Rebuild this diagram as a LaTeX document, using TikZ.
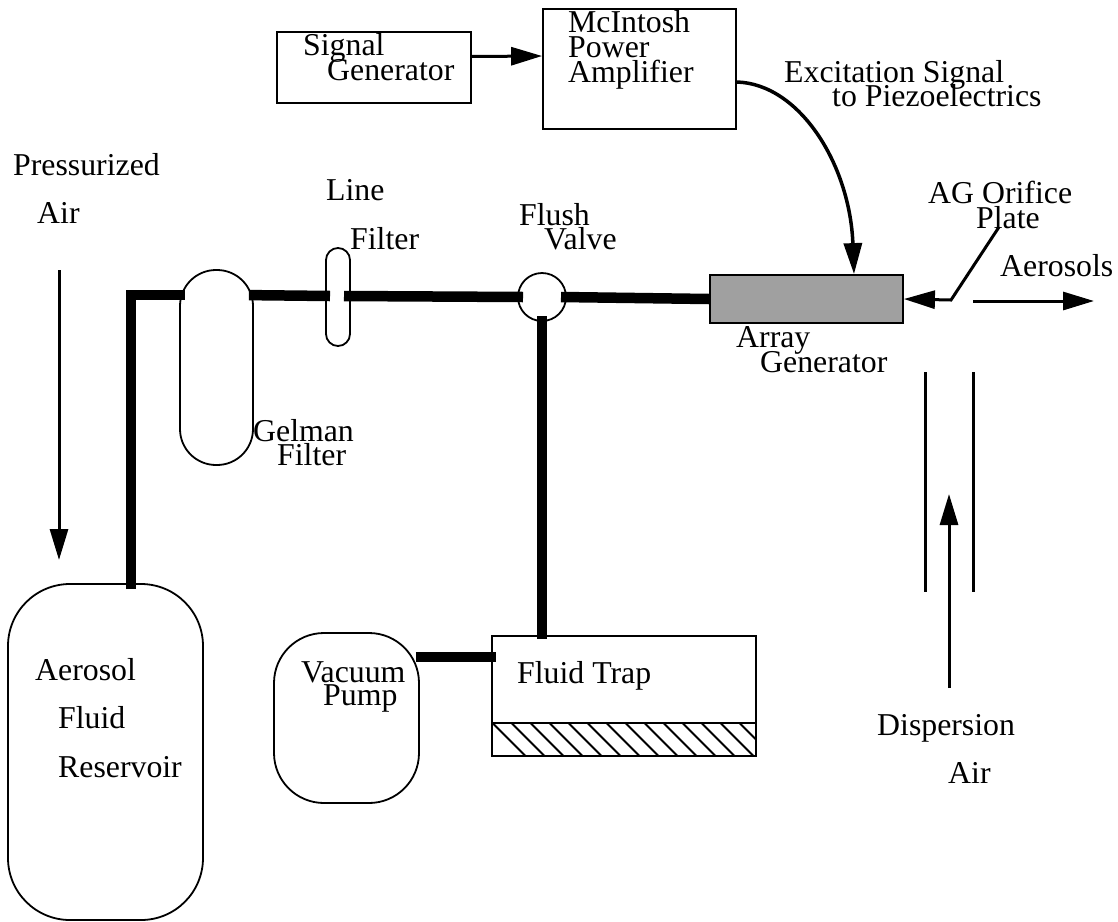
\documentclass[tikz,border=0pt]{standalone}
\usepackage{fontspec}
\setmainfont{Liberation Serif}
\usetikzlibrary{arrows.meta, calc}
\definecolor{arraygray}{HTML}{A0A0A0}

\begin{document}
\begin{tikzpicture}[
    x=1pt, y=-1pt,
    >={Triangle[length=31pt, width=18pt]},
    every node/.style={text=black},
    lbl/.style={anchor=base west, inner sep=0pt, font=\fontsize{31.8}{32}\selectfont},
    vessel/.style={draw, line width=1.8pt, inner sep=0pt},
    pipe/.style={line width=10.5pt},
    flow/.style={->, line width=3pt},
  ]

  \useasboundingbox (0,0) rectangle (1118,921);

  % === Electronics ===
  \node[vessel, minimum width=194, minimum height=71] (siggen) at (374,67.5) {};
  \node[vessel, minimum width=193, minimum height=120] (amp) at (639.5,69) {};

  \node[lbl] (siggenA) at (303,55) {Signal};
  \node[lbl] (siggenB) at (327,80) {Generator};
  \node[lbl] (ampA) at (568,32) {McIntosh};
  \node[lbl] (ampB) at (568,57) {Power};
  \node[lbl] (ampC) at (568,82) {Amplifier};
  \node[lbl] (excA) at (784,82) {Excitation Signal};
  \node[lbl] (excB) at (832,106) {to Piezoelectrics};

  % === Vessels along the line ===
  \node[vessel, minimum width=195, minimum height=336, rounded corners=62] (reservoir) at (105.5,752) {};
  \node[vessel, minimum width=73, minimum height=195, rounded corners=36] (gelman) at (216.5,367.5) {};
  \node[vessel, minimum width=24, minimum height=98, rounded corners=12] (linefilter) at (338,297) {};
  \node[vessel, circle, minimum size=48] (valve) at (542,297) {};
  \node[vessel, fill=arraygray, minimum width=193, minimum height=48] (array) at (806.5,299) {};
  \node[vessel, minimum width=145, minimum height=170, rounded corners=50] (pump) at (346.5,718) {};
  \node[vessel, minimum width=264, minimum height=120] (trap) at (624,696) {};

  % Hatched bottom of the trap
  \node[vessel, minimum width=264, minimum height=33] (trapbase) at (624,739.5) {};
  \begin{scope}
    \clip (trapbase.north west) rectangle (trapbase.south east);
    \foreach \i in {-1,...,13} {
      \draw[line width=2pt] (511.5+19*\i,723) -- ++(33,33);
    }
  \end{scope}

  \node[lbl] (resA) at (35,680) {Aerosol};
  \node[lbl] (resB) at (58,728) {Fluid};
  \node[lbl] (resC) at (58,777) {Reservoir};
  \node[lbl] (gelmanA) at (253,441) {Gelman};
  \node[lbl] (gelmanB) at (277,465) {Filter};
  \node[lbl] (lineA) at (326,200) {Line};
  \node[lbl] (lineB) at (350,249) {Filter};
  \node[lbl] (valveA) at (519,225) {Flush};
  \node[lbl] (valveB) at (544,249) {Valve};
  \node[lbl] (arrayA) at (736,347) {Array};
  \node[lbl] (arrayB) at (760,372) {Generator};
  \node[lbl] (pumpA) at (301,682) {Vacuum};
  \node[lbl] (pumpB) at (323,705) {Pump};
  \node[lbl] (trapA) at (517,683) {Fluid Trap};

  % === Thick lines ===
  \draw[pipe, line join=miter] ([xshift=25.5pt, yshift=-6pt]reservoir.north)
    -- ++(0,-294) -- ([xshift=6pt, yshift=-26pt]gelman.north west);
  \draw[pipe] ([xshift=-5pt, yshift=-26pt]gelman.north east) -- ([xshift=-8pt, yshift=1pt]linefilter.center);
  \draw[pipe] ([xshift=6pt, yshift=1pt]linefilter.center) -- ([xshift=-19pt]valve.center);
  \draw[pipe] ([xshift=19pt]valve.center) -- (array.west);
  \draw[pipe] ([yshift=-19pt]valve.center) -- ([xshift=-82pt, yshift=-4pt]trap.north);
  \draw[pipe] ([xshift=-4pt, yshift=-25pt]pump.north east) -- ([xshift=5pt, yshift=-22pt]trap.north west);

  % === Signal and air ===
  \draw[flow] ([yshift=11pt]siggen.east) -- ([yshift=13pt]amp.west);
  \draw[flow, line width=3.5pt] ([yshift=-13pt]amp.east) .. controls (800,84) and (850,165) .. ([xshift=47.5pt]array.north);

  \coordinate (plate) at (999,227);
  \coordinate (plateknee) at (951,300);
  \draw[flow, line join=miter] (plate) -- (plateknee) -- (array.east);

  \coordinate (aerosolstail) at (973,301);
  \coordinate (aerosolstip) at (1094,301);
  \draw[flow] (aerosolstail) -- (aerosolstip);
  \node[lbl] (orificeA) at (928,203) {AG Orifice};
  \node[lbl] (orificeB) at (976,228) {Plate};
  \node[lbl] (aerosols) at (1000,276) {Aerosols};

  \coordinate (pressA) at (59,270);
  \coordinate (pressB) at (59,560);
  \draw[flow] (pressA) -- (pressB);
  \node[lbl] (pressC) at (13,175) {Pressurized};
  \node[lbl] (pressD) at (37,223) {Air};

  % Dispersion air duct
  \coordinate (ductAa) at (925,372);
  \coordinate (ductAb) at (925,592);
  \coordinate (ductBa) at (973,372);
  \coordinate (ductBb) at (973,592);
  \draw[line width=3pt] (ductAa) -- (ductAb);
  \draw[line width=3pt] (ductBa) -- (ductBb);
  \coordinate (disptail) at (949,688);
  \coordinate (disptip) at (949,494);
  \draw[flow] (disptail) -- (disptip);
  \node[lbl] (dispA) at (877,735) {Dispersion};
  \node[lbl] (dispB) at (948,783) {Air};

\end{tikzpicture}
\end{document}
